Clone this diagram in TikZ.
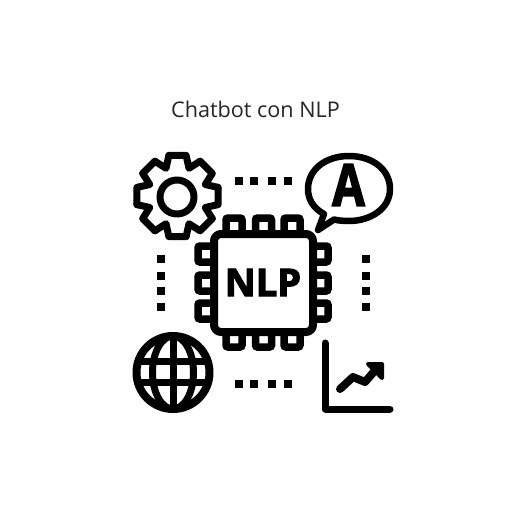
\documentclass[tikz,border=0pt]{standalone}
\usepackage{graphicx}
\usepackage{fontspec}
\setmainfont{Open Sans}
\newfontfamily\heavyfont[FakeBold=3]{Open Sans Bold}
\tikzset{
  ink/.style={draw=black,line width=7.5pt,line join=round,line cap=round,fill=none},
  dotmark/.style={fill=black,draw=none,minimum size=8pt,inner sep=0pt,shape=rectangle},
  pin/.style={draw=black,line width=7.5pt,rounded corners=2pt,fill=white,minimum width=16pt,minimum height=16pt,inner sep=0pt,shape=rectangle},
}
\begin{document}
\begin{tikzpicture}[x=1pt,y=-1pt]
\useasboundingbox[fill=white] (0,0) rectangle (512,512);
\node[font=\fontsize{21.6}{26}\selectfont,text=black!85] (title) at (255.5,109) {Chatbot con NLP};
% gear
\foreach \k in {0,...,7} {
  \pgfmathsetmacro\a{-90+45*\k}
  \pgfmathsetmacro\b{\a+12}
  \pgfmathsetmacro\c{\a-12}
  \pgfmathsetmacro\d{\a+22.5}
  \pgfmathsetmacro\e{\a+45-12}
  \draw[ink,line width=7pt] ([shift={(\c:41.5)}]177.5,196) -- ([shift={(\b:41.5)}]177.5,196) -- ([shift={(\d:30)}]177.5,196) -- ([shift={(\e:41.5)}]177.5,196);
}
\draw[ink,line width=7pt] (177,197) circle (17);
% dots
\foreach \x [count=\i] in {238.5,254,271.5,288} {
  \node[dotmark] (dt\i) at (\x,180.5) {};
  \node[dotmark] (db\i) at (\x,384) {};
}
\foreach \y [count=\i] in {259,276,291,307} {
  \node[dotmark] (dl\i) at (161,\y) {};
  \node[dotmark] (dr\i) at (365.5,\y) {};
}
% pins
\foreach \x [count=\i] in {234,263.5,292} {
  \node[pin] (pt\i) at (\x,226) {};
  \node[pin] (pb\i) at (\x,339) {};
}
\foreach \y [count=\i] in {254,283,311} {
  \node[pin] (pl\i) at (206,\y) {};
  \node[pin] (pr\i) at (320,\y) {};
}
% chip body
\draw[ink,line width=8pt,fill=white,rounded corners=7pt] (214,234) rectangle (313,332);
\node[font=\fontsize{38}{38}\heavyfont] (nlp) at (263,282.5) {NLP};
% bubble
\draw[ink,line width=6.5pt] (349,156) .. controls (373,156) and (390,170) .. (390,189) .. controls (390,209) and (370,221) .. (349,221) .. controls (343,221) and (338,220.5) .. (334,219.5) -- (318,230) -- (324,214) .. controls (313,208) and (308,199) .. (308,189) .. controls (308,170) and (325,156) .. (349,156) -- cycle;
\node[font=\fontsize{48}{48}\heavyfont] (letterA) at (348.5,185) {\scalebox{.98}[1.2]{A}};
% globe
\begin{scope}
\clip (173,372.5) circle (38);
\draw[ink,line width=7pt,line cap=butt] (173,334) -- (173,411);
\draw[ink,line width=7pt,line cap=butt] (130,361.5) -- (216,361.5);
\draw[ink,line width=7pt,line cap=butt] (130,382) -- (216,382);
\end{scope}
\draw[ink,line width=7pt] (173,372.5) ellipse (20.5 and 36.5);
\draw[ink,line width=8pt] (173,372.5) circle (36.5);
% chart
\draw[ink,line width=7pt] (325,343) -- (325,409) -- (390,409);
\draw[ink,line width=8pt] (340,389) -- (353,377) -- (365,382) -- (378,367);
\draw[fill=black,draw=black,line width=4pt,line join=round] (368,364) -- (382,364) -- (382,378) -- cycle;
\end{tikzpicture}
\end{document}
